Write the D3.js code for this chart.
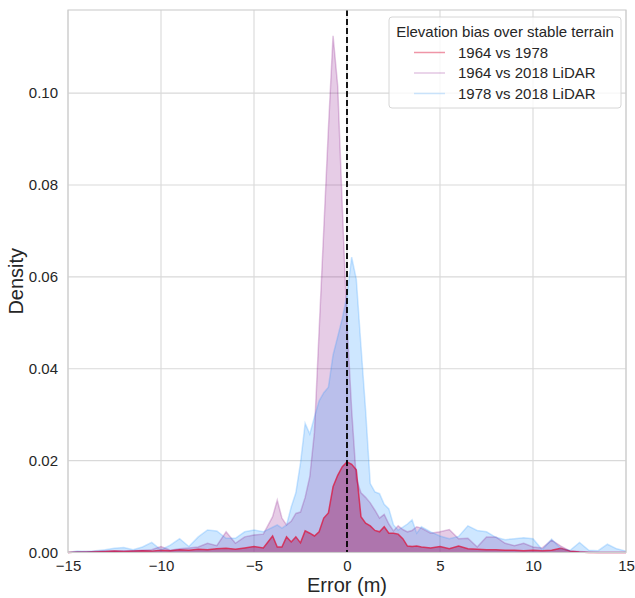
<!DOCTYPE html>
<html lang="en">
<head>
<meta charset="UTF-8">
<title>Elevation bias over stable terrain</title>
<script src="https://d3js.org/d3.v7.min.js"></script>
<style>
  body { margin: 0; background: #fff; font-family: "Liberation Sans", Arial, sans-serif; }
  svg text { fill: #262626; }
</style>
</head>
<body>
<div id="chart"></div>
<script>
// bin centres (m) — finer near zero where the peaks are
const errorX = [
  -15, -14.5, -14, -13.5, -13, -12.5, -12, -11.5, -11, -10.5, -10, -9.5, -9, -8.5, -8, -7.5, -7, -6.5, -6, -5.5, -5, -4.5,
  -4, -3.75, -3.5, -3.25, -3, -2.75, -2.5, -2.25, -2, -1.75, -1.5, -1.25, -1, -0.75, -0.5, -0.25,
  0, 0.25, 0.5, 0.75, 1, 1.25, 1.5, 1.75, 2, 2.25, 2.5, 2.75, 3, 3.25, 3.5, 3.75,
  4, 4.5, 5, 5.5, 6, 6.5, 7, 7.5, 8, 8.5, 9, 9.5, 10, 10.5, 11, 11.5, 12, 12.5, 13, 13.5, 14, 14.5, 15
];

const density6478 = [
  0, 0.0001, 0.0001, 0.0002, 0.0002, 0.0003, 0.0002, 0.0003, 0.0004, 0.0003, 0.0005, 0.0004, 0.0006, 0.0005, 0.0007, 0.0006, 0.0008, 0.0009, 0.0007, 0.0010, 0.0013, 0.0010,
  0.0036, 0.0012, 0.0012, 0.0034, 0.0023, 0.0034, 0.0021, 0.0047, 0.0042, 0.0036, 0.0045, 0.0075, 0.0086, 0.0143, 0.0168, 0.0187,
  0.0197, 0.0192, 0.0180, 0.0078, 0.0064, 0.0058, 0.0048, 0.0045, 0.0056, 0.0042, 0.0042, 0.0040, 0.0030, 0.0014, 0.0013, 0.0014,
  0.0012, 0.0010, 0.0013, 0.0008, 0.0014, 0.0008, 0.0007, 0.0006, 0.0006, 0.0005, 0.0005, 0.0004, 0.0005, 0.0004, 0.0005, 0.0009, 0.0003, 0.0001, 0, 0, 0, 0, 0
];

const density6418 = [
  0, 0.0001, 0.0002, 0.0001, 0.0003, 0.0003, 0.0004, 0.0004, 0.0005, 0.0006, 0.0013, 0.0005, 0.0008, 0.0010, 0.0012, 0.0020, 0.0015, 0.0045, 0.0020, 0.0034, 0.0038, 0.0040,
  0.0078, 0.0114, 0.0075, 0.0060, 0.0068, 0.0085, 0.0088, 0.0120, 0.0165, 0.0262, 0.0482, 0.0702, 0.0922, 0.1125, 0.1016, 0.0750,
  0.0500, 0.0310, 0.0160, 0.0130, 0.0120, 0.0108, 0.0092, 0.0075, 0.0083, 0.0062, 0.0047, 0.0058, 0.0050, 0.0045, 0.0048, 0.0056,
  0.0053, 0.0042, 0.0045, 0.0050, 0.0030, 0.0031, 0.0012, 0.0034, 0.0034, 0.0020, 0.0015, 0.0020, 0.0012, 0.0010, 0.0027, 0.0014, 0.0003, 0.0002, 0.0001, 0, 0, 0, 0
];

const density7818 = [
  0, 0.0003, 0.0002, 0.0004, 0.0006, 0.0009, 0.0011, 0.0006, 0.0012, 0.0022, 0.0006, 0.0016, 0.0030, 0.0013, 0.0034, 0.0049, 0.0047, 0.0031, 0.0031, 0.0045, 0.0049, 0.0045,
  0.0055, 0.0060, 0.0053, 0.0060, 0.0099, 0.0130, 0.0195, 0.0281, 0.0258, 0.0295, 0.0330, 0.0348, 0.0360, 0.0430, 0.0470, 0.0510,
  0.0560, 0.0643, 0.0595, 0.0450, 0.0310, 0.0150, 0.0132, 0.0128, 0.0105, 0.0095, 0.0060, 0.0049, 0.0055, 0.0062, 0.0071, 0.0042,
  0.0056, 0.0045, 0.0036, 0.0030, 0.0035, 0.0058, 0.0048, 0.0045, 0.0033, 0.0028, 0.0030, 0.0032, 0.0030, 0.0006, 0.0029, 0.0008, 0.0005, 0.0022, 0.0005, 0.0004, 0.0018, 0.0008, 0.0003
];

const seriesNames = ["1964 vs 1978", "1964 vs 2018 LiDAR", "1978 vs 2018 LiDAR"];
const seriesColors = ["#dc143c", "#800080", "#1e90ff"];
const xTicks = [-15, -10, -5, 0, 5, 10, 15];
const yTicks = [0, 0.02, 0.04, 0.06, 0.08, 0.10];

const W = 635, H = 598;
const margin = { top: 10, right: 9, bottom: 45.5, left: 68 };
const FONT = "Liberation Sans, Arial, sans-serif";

const svg = d3.select("#chart").append("svg")
  .attr("width", W)
  .attr("height", H);

const x = d3.scaleLinear().domain([-15, 15]).range([margin.left, W - margin.right]);
const y = d3.scaleLinear().domain([0, 0.1181]).range([H - margin.bottom, margin.top]);

// grid
svg.append("g")
  .selectAll("line")
  .data(xTicks)
  .join("line")
  .attr("x1", d => x(d)).attr("x2", d => x(d))
  .attr("y1", margin.top).attr("y2", H - margin.bottom)
  .attr("stroke", "#d9d9d9").attr("stroke-width", 1.1);

svg.append("g")
  .selectAll("line")
  .data(yTicks)
  .join("line")
  .attr("y1", d => y(d)).attr("y2", d => y(d))
  .attr("x1", margin.left).attr("x2", W - margin.right)
  .attr("stroke", "#d9d9d9").attr("stroke-width", 1.1);

const allSeries = [density6478, density6418, density7818];
const fillAlpha = [0.5, 0.2, 0.22];

const area = d3.area()
  .x(d => x(d[0]))
  .y0(y(0))
  .y1(d => y(d[1]));

const line = d3.line()
  .x(d => x(d[0]))
  .y(d => y(d[1]));

const plot = svg.append("g");

allSeries.forEach((vals, i) => {
  const pts = errorX.map((e, k) => [e, vals[k]]);
  plot.append("path")
    .datum(pts)
    .attr("d", area)
    .attr("fill", seriesColors[i])
    .attr("fill-opacity", fillAlpha[i]);
});

allSeries.forEach((vals, i) => {
  const pts = errorX.map((e, k) => [e, vals[k]]);
  plot.append("path")
    .datum(pts)
    .attr("d", line)
    .attr("fill", "none")
    .attr("stroke", seriesColors[i])
    .attr("stroke-opacity", i === 0 ? 0.75 : 0.22)
    .attr("stroke-width", 1.5);
});

// zero line
svg.append("line")
  .attr("x1", x(0)).attr("x2", x(0))
  .attr("y1", margin.top).attr("y2", H - margin.bottom)
  .attr("stroke", "#000")
  .attr("stroke-width", 1.8)
  .attr("stroke-dasharray", "6,3");

// frame
svg.append("rect")
  .attr("x", margin.left).attr("y", margin.top)
  .attr("width", W - margin.left - margin.right)
  .attr("height", H - margin.top - margin.bottom)
  .attr("fill", "none")
  .attr("stroke", "#cccccc")
  .attr("stroke-width", 1.1);

// axes
const xAxis = svg.append("g")
  .attr("transform", `translate(0,${H - margin.bottom})`)
  .call(d3.axisBottom(x).tickValues(xTicks).tickSize(0).tickPadding(8).tickFormat(d3.format("d")));
xAxis.select(".domain").remove();
xAxis.selectAll("text").attr("font-size", 15).attr("font-family", FONT).style("fill", "#262626");

const yAxis = svg.append("g")
  .attr("transform", `translate(${margin.left},0)`)
  .call(d3.axisLeft(y).tickValues(yTicks).tickSize(0).tickPadding(10).tickFormat(d3.format(".2f")));
yAxis.select(".domain").remove();
yAxis.selectAll("text").attr("font-size", 15).attr("font-family", FONT).style("fill", "#262626");

svg.append("text")
  .attr("x", x(0))
  .attr("y", 592)
  .attr("text-anchor", "middle")
  .attr("font-size", 20)
  .attr("font-family", FONT)
  .text("Error (m)");

svg.append("text")
  .attr("transform", `translate(23,${(margin.top + H - margin.bottom) / 2}) rotate(-90)`)
  .attr("text-anchor", "middle")
  .attr("font-size", 20)
  .attr("font-family", FONT)
  .text("Density");

// legend
const lg = svg.append("g").attr("transform", "translate(389,17)");
lg.append("rect")
  .attr("width", 232).attr("height", 91)
  .attr("rx", 3)
  .attr("fill", "#fff").attr("fill-opacity", 0.8)
  .attr("stroke", "#d6d6d6");
lg.append("text")
  .attr("x", 116).attr("y", 20)
  .attr("text-anchor", "middle")
  .attr("font-size", 15)
  .attr("font-family", FONT)
  .text("Elevation bias over stable terrain");
seriesNames.forEach((name, i) => {
  const yy = 35.5 + i * 20.5;
  lg.append("line")
    .attr("x1", 25).attr("x2", 56)
    .attr("y1", yy).attr("y2", yy)
    .attr("stroke", seriesColors[i])
    .attr("stroke-opacity", i === 0 ? 0.45 : 0.22)
    .attr("stroke-width", 1.5);
  lg.append("text")
    .attr("x", 69).attr("y", yy + 5)
    .attr("font-size", 15)
    .attr("font-family", FONT)
    .text(name);
});
</script>
</body>
</html>
